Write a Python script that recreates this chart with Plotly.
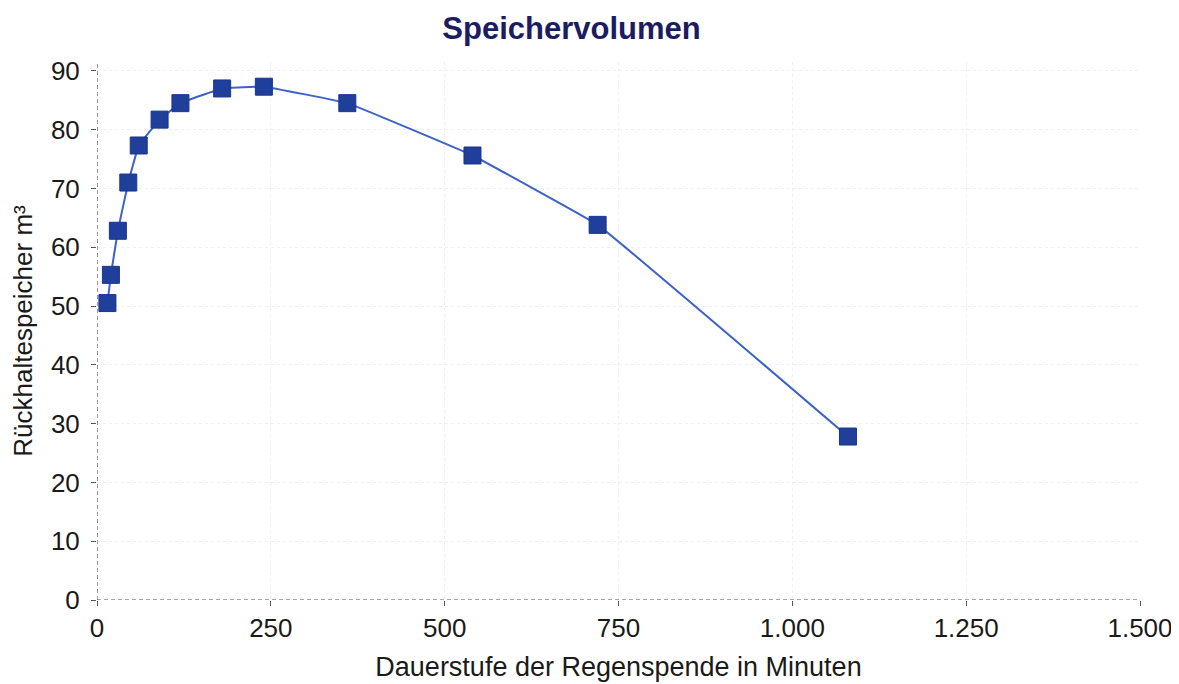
import plotly.graph_objects as go

dauer_min = [15, 20, 30, 45, 60, 90, 120, 180, 240, 360, 540, 720, 1080]
speicher_m3 = [50.5, 55.3, 62.8, 71.0, 77.3, 81.7, 84.5, 87.0, 87.3, 84.5, 75.6, 63.8, 27.8]

x_ticks = [0, 250, 500, 750, 1000, 1250, 1500]
x_tick_labels = ["0", "250", "500", "750", "1.000", "1.250", "1.500"]
y_ticks = [0, 10, 20, 30, 40, 50, 60, 70, 80, 90]

fig = go.Figure()
fig.add_trace(go.Scatter(
    x=dauer_min, y=speicher_m3, mode="lines+markers",
    line=dict(color="#3d62c9", width=2, shape="spline", smoothing=0.2),
    marker=dict(symbol="square", size=17, color="#1f3f9a",
                line=dict(color="#1a3590", width=1)),
    showlegend=False,
))

font = "Liberation Sans, Arial, sans-serif"
fig.update_layout(
    width=1179, height=684,
    margin=dict(l=89, r=47, t=54, b=92),
    paper_bgcolor="white", plot_bgcolor="white",
    font=dict(family=font, color="#1a1a1a"),
    title=dict(text="<b>Speichervolumen</b>", x=0.478, xanchor="center",
               y=0.971, yanchor="middle",
               font=dict(family=font, size=31, color="#1c1c63")),
)
fig.update_xaxes(
    range=[0, 1500], tickvals=x_ticks, ticktext=x_tick_labels, automargin=False,
    tickfont=dict(size=26), showgrid=True, gridcolor="#efefef", griddash="dot",
    zeroline=False, showline=False, ticks="outside", ticklen=5, tickcolor="#555",
    title=dict(text="Dauerstufe der Regenspende in Minuten", font=dict(size=27), standoff=14),
)
fig.update_yaxes(
    range=[0, 91.5], tickvals=y_ticks, automargin=False,
    tickfont=dict(size=26), showgrid=True, gridcolor="#efefef", griddash="dot",
    zeroline=False, showline=False, ticks="outside", ticklen=5, tickcolor="#555",
    ticklabelstandoff=6,
    title=dict(text="Rückhaltespeicher m³", font=dict(size=26), standoff=12),
)
fig.add_shape(type="line", xref="paper", yref="y", x0=0, x1=1, y0=0, y1=0,
              line=dict(color="#555", width=1.2, dash="4px,3px"))
fig.add_shape(type="line", xref="x", yref="paper", x0=0, x1=0, y0=0, y1=1,
              line=dict(color="#555", width=1.2, dash="4px,3px"))

fig.write_html("out.html")
